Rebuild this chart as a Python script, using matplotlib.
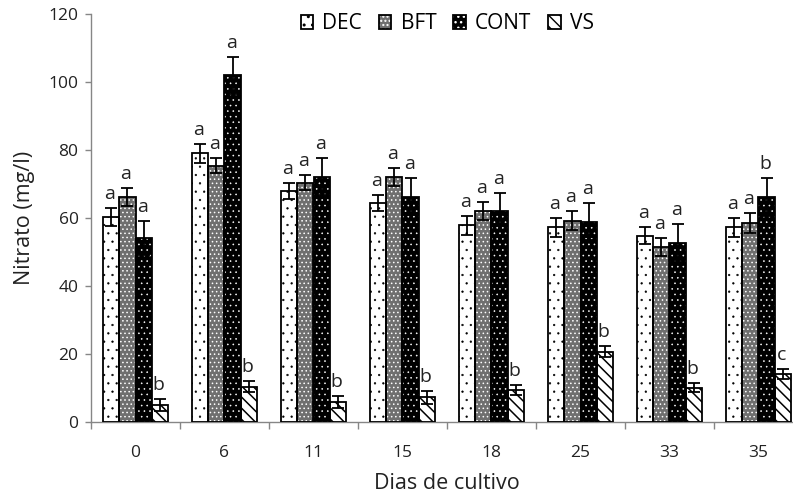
import matplotlib
matplotlib.use('Agg')
import matplotlib.pyplot as plt
import numpy as np

plt.rcParams['font.family'] = ['Open Sans', 'DejaVu Sans']

dias = ['0', '6', '11', '15', '18', '25', '33', '35']
series = ['DEC', 'BFT', 'CONT', 'VS']

dec = [60.3, 79.1, 68.1, 64.4, 57.9, 57.4, 54.8, 57.4]
dec_err = [2.6, 2.7, 2.4, 2.4, 2.8, 2.8, 2.5, 2.8]
bft = [66.2, 75.5, 70.5, 72.2, 62.1, 59.3, 51.5, 58.7]
bft_err = [2.6, 2.2, 2.3, 2.7, 2.6, 2.8, 2.7, 2.9]
cont = [54.3, 102.1, 72.2, 66.4, 62.1, 59.0, 52.8, 66.2]
cont_err = [5.0, 5.4, 5.4, 5.4, 5.4, 5.4, 5.5, 5.6]
vs = [5.0, 10.5, 6.0, 7.3, 9.5, 20.8, 10.2, 14.2]
vs_err = [1.8, 1.5, 1.7, 1.9, 1.5, 1.6, 1.3, 1.4]

dec_let = ['a', 'a', 'a', 'a', 'a', 'a', 'a', 'a']
bft_let = ['a', 'a', 'a', 'a', 'a', 'a', 'a', 'a']
cont_let = ['a', 'a', 'a', 'a', 'a', 'a', 'a', 'b']
vs_let = ['b', 'b', 'b', 'b', 'b', 'b', 'b', 'c']

valores = [dec, bft, cont, vs]
errores = [dec_err, bft_err, cont_err, vs_err]
letras = [dec_let, bft_let, cont_let, vs_let]

# estilo de cada serie: (relleno, color del patron, patron, grosor del patron)
estilos = [('white', 'black', '..', 0.4),
           ('#6f6f6f', 'white', '....', 0.6),
           ('black', 'white', '...', 0.4),
           ('white', 'black', '\\\\\\', 1.1)]

fig = plt.figure(figsize=(7.93, 4.98), dpi=100)
ax = fig.add_axes([91 / 793, 75.7 / 498, 712 / 793, 408 / 498])

x = np.arange(len(dias))
w = 0.183
handles = []
for i, (vals, errs, lets) in enumerate(zip(valores, errores, letras)):
    fc, hc, h, hl = estilos[i]
    pos = x + (i - 1.5) * w
    b1 = ax.bar(pos, vals, w, color=fc, edgecolor=hc, hatch=h, linewidth=0,
                hatch_linewidth=hl, zorder=2)
    b2 = ax.bar(pos, vals, w, fill=False, edgecolor='black', linewidth=1.3, zorder=3)
    ax.errorbar(pos, vals, yerr=errs, fmt='none', ecolor='black', elinewidth=1.3,
                capsize=4, capthick=1.3, zorder=4)
    for p, v, e, l in zip(pos, vals, errs, lets):
        ax.annotate(l, (p, v + e), xytext=(-1, 6.5), textcoords='offset points',
                    ha='center', va='baseline', fontsize=14, color='#222222')
    handles.append((b1[0], b2[0]))

ax.set_xlim(-0.5, len(dias) - 0.5)
ax.set_ylim(0, 120)
ax.set_yticks(range(0, 121, 20))
ax.set_xticks(x)
ax.set_xticklabels(dias)
ax.set_xticks(np.arange(-0.5, len(dias), 1), minor=True)
ax.tick_params(axis='x', which='major', length=0, pad=16, labelsize=12.5, labelcolor='#222222')
ax.tick_params(axis='x', which='minor', length=5, color='#868686', width=1)
ax.tick_params(axis='y', length=4, color='#868686', width=1, pad=5, labelsize=12.5,
               labelcolor='#222222')

for s in ['top', 'right']:
    ax.spines[s].set_visible(False)
for s in ['left', 'bottom']:
    ax.spines[s].set_color('#868686')
    ax.spines[s].set_linewidth(1.0)

ax.set_ylabel('Nitrato (mg/l)', fontsize=15.5, color='#222222')
ax.yaxis.set_label_coords(-0.079, 0.5)
ax.set_xlabel('Dias de cultivo', fontsize=15.5, color='#222222')
ax.xaxis.set_label_coords(0.5, -0.125)

fig.legend(handles, series, loc='center', bbox_to_anchor=(0.564, 0.952), ncol=4,
           frameon=False, fontsize=15, handlelength=0.6, handleheight=0.6,
           handletextpad=0.45, columnspacing=0.8)

fig.savefig('out.png', dpi=100)
